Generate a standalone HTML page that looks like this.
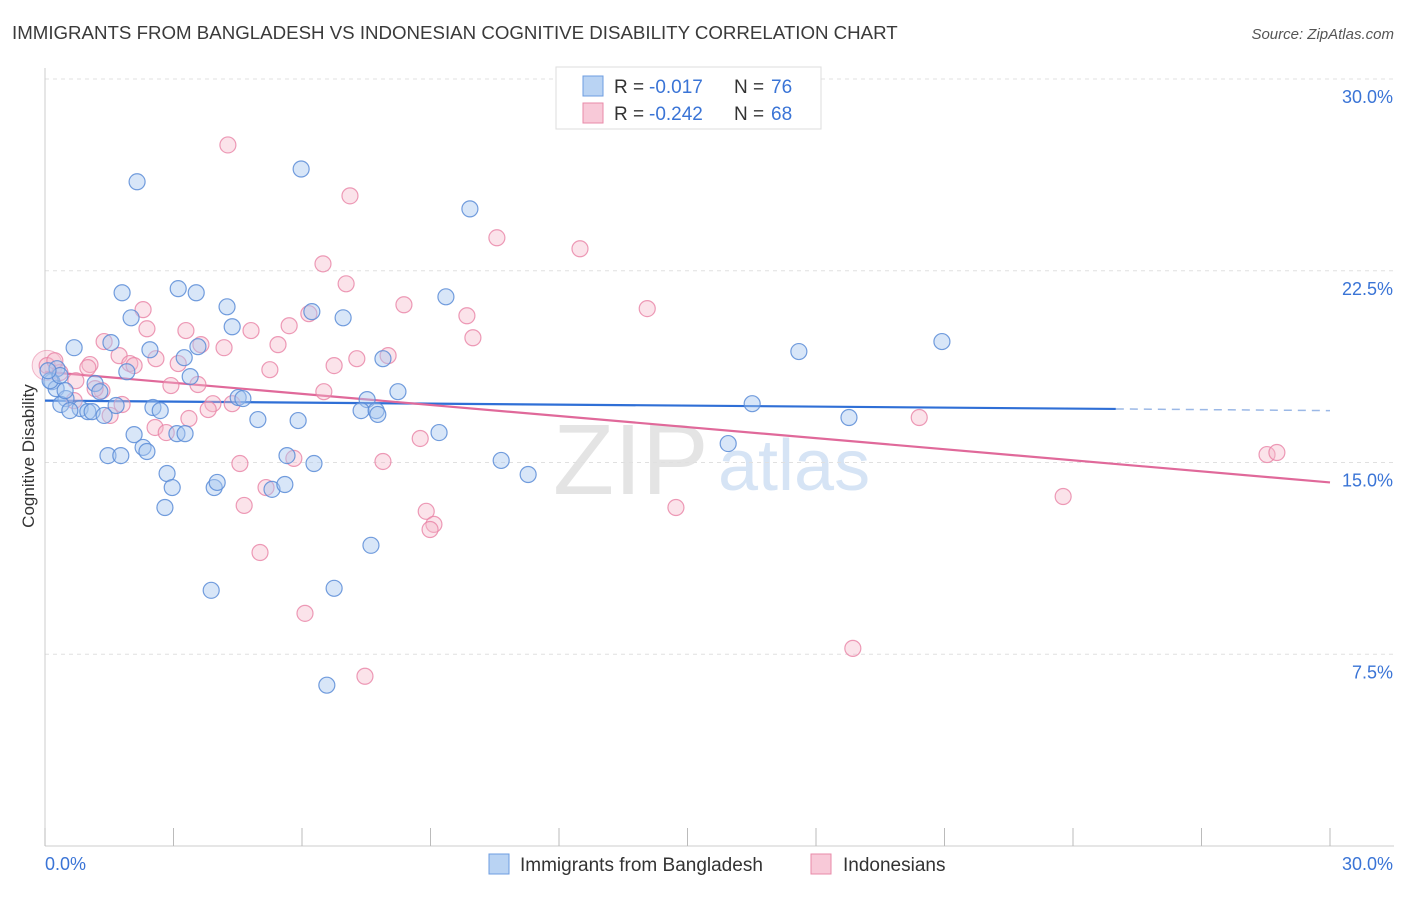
<!DOCTYPE html>
<html><head><meta charset="utf-8"><style>
body{margin:0;background:#fff;font-family:"Liberation Sans",sans-serif;}
svg text{font-family:"Liberation Sans",sans-serif;}
</style></head><body>
<svg id="chart" width="1406" height="892" viewBox="0 0 1406 892" xmlns="http://www.w3.org/2000/svg">
<text x="12" y="39" font-size="18.7" fill="#3a3a3a">IMMIGRANTS FROM BANGLADESH VS INDONESIAN COGNITIVE DISABILITY CORRELATION CHART</text>
<text x="1394" y="39" font-size="15" fill="#555" text-anchor="end" font-style="italic">Source: ZipAtlas.com</text>
<text transform="translate(34,456) rotate(-90)" font-size="17" fill="#333" text-anchor="middle">Cognitive Disability</text>
<g><text x="553" y="494" font-size="100" fill="#e4e4e4" font-family="Liberation Serif,serif">ZIP</text><text x="718" y="490" font-size="72" fill="#d6e4f5">atlas</text></g>
<g id="grid"></g><g id="axes"></g><g id="trends"></g><g id="points"></g>
<g>
<rect x="556" y="67" width="265" height="62" fill="#fff" stroke="#ddd"/>
<rect x="583" y="76" width="20" height="20" fill="#b9d3f3" stroke="#6d9de0"/>
<text x="614" y="93" font-size="19" fill="#333">R =</text>
<text x="649" y="93" font-size="19" fill="#3a74d6">-0.017</text>
<text x="734" y="93" font-size="19" fill="#333">N =</text>
<text x="771" y="93" font-size="19" fill="#3a74d6">76</text>
<rect x="583" y="103" width="20" height="20" fill="#f8c9d8" stroke="#e88aa8"/>
<text x="614" y="120" font-size="19" fill="#333">R =</text>
<text x="649" y="120" font-size="19" fill="#3a74d6">-0.242</text>
<text x="734" y="120" font-size="19" fill="#333">N =</text>
<text x="771" y="120" font-size="19" fill="#3a74d6">68</text>
</g>
<g>
<rect x="489" y="854" width="20" height="20" fill="#b9d3f3" stroke="#6d9de0"/>
<text x="520" y="871" font-size="19" fill="#333">Immigrants from Bangladesh</text>
<rect x="811" y="854" width="20" height="20" fill="#f8c9d8" stroke="#e88aa8"/>
<text x="843" y="871" font-size="19" fill="#333">Indonesians</text>
</g>
</svg>
<script>
const blueX=[2.15,5.98,9.92,1.80,3.11,3.53,4.25,9.36,6.23,6.96,2.01,4.37,1.54,0.68,2.45,3.57,3.25,20.94,17.60,7.89,1.91,3.39,0.28,0.16,1.17,1.28,0.26,0.49,4.51,4.62,8.24,7.52,0.37,0.82,1.66,2.52,2.69,0.58,1.00,1.10,1.38,4.97,5.91,7.38,7.73,7.77,16.51,18.77,2.08,3.08,3.27,2.29,2.38,9.20,15.95,1.47,1.77,5.65,6.28,10.65,11.28,2.85,2.97,3.95,4.02,5.30,5.60,2.80,7.61,3.88,6.75,6.58,0.12,0.35,0.07,0.47];
const blueY=[25.98,26.48,24.92,21.64,21.80,21.64,21.09,21.48,20.90,20.66,20.66,20.31,19.69,19.49,19.41,19.53,19.10,19.73,19.34,19.06,18.55,18.36,18.67,18.16,18.09,17.77,17.89,17.50,17.54,17.50,17.77,17.46,17.27,17.11,17.23,17.15,17.03,17.03,16.99,16.99,16.84,16.68,16.64,17.03,17.03,16.88,17.30,16.76,16.09,16.13,16.13,15.59,15.43,16.17,15.74,15.27,15.27,15.27,14.96,15.08,14.53,14.57,14.02,14.02,14.22,13.95,14.14,13.24,11.76,10.00,10.08,6.29,18.20,18.40,18.59,17.81];
const pinkX=[4.27,7.12,10.55,12.49,6.49,7.03,8.38,2.29,6.16,9.85,14.06,3.29,2.38,5.70,9.99,4.81,1.38,3.64,4.18,5.44,7.28,1.73,2.59,1.98,2.08,1.05,1.00,3.11,5.25,6.75,8.01,0.05,2.94,3.57,6.51,0.72,1.33,0.68,1.80,3.92,3.81,4.37,1.52,3.36,2.57,2.83,8.76,20.41,28.53,28.76,4.55,7.89,5.81,5.16,4.65,8.90,9.08,8.99,14.73,23.77,5.02,6.07,18.86,7.47,0.35,0.23,1.17];
const pinkY=[27.42,25.43,23.79,23.36,22.77,21.99,21.17,20.98,20.82,20.74,21.02,20.16,20.23,20.35,19.88,20.16,19.73,19.61,19.49,19.61,19.06,19.18,19.06,18.87,18.79,18.83,18.71,18.87,18.63,18.79,19.18,18.79,18.01,18.05,17.77,18.20,17.81,17.42,17.27,17.30,17.07,17.30,16.84,16.72,16.37,16.17,15.94,16.76,15.31,15.39,14.96,15.04,15.16,14.02,13.32,13.09,12.58,12.38,13.24,13.67,11.48,9.10,7.73,6.64,18.52,18.98,17.89];
const blueTrend=[17.42,17.03];
const pinkTrend=[18.55,14.22];
const yTicks=[7.5,15,22.5,30];
const yTickLabels=["7.5%","15.0%","22.5%","30.0%"];
const xTickCount=10;
const NS="http://www.w3.org/2000/svg";
const X0=45,X1=1330,Y0=846,Y1=79,MAXX=30,MAXY=30;
function sx(v){return X0+(v/MAXX)*(X1-X0);}
function sy(v){return Y0-(v/MAXY)*(Y0-Y1);}
function mk(tag,attrs,parent){const e=document.createElementNS(NS,tag);for(const k in attrs)e.setAttribute(k,attrs[k]);parent.appendChild(e);return e;}
const grid=document.getElementById('grid'),axes=document.getElementById('axes'),trends=document.getElementById('trends'),pts=document.getElementById('points');
yTicks.forEach((t,i)=>{
 const l=mk('line',{x1:X0,x2:1394,y1:sy(t),y2:sy(t),stroke:'#e0e0e0','stroke-dasharray':'4,4'},grid);
 
 
 const tx=mk('text',{x:1393,y:sy(t)+24,'font-size':18,fill:'#3a74d6','text-anchor':'end'},axes);
 tx.textContent=yTickLabels[i];
 
 
});
const ya=mk('line',{x1:X0,x2:X0,y1:68,y2:Y0,stroke:'#ccc'},axes);


const xa=mk('line',{x1:X0,x2:1394,y1:Y0,y2:Y0,stroke:'#ccc'},axes);


for(let i=0;i<=xTickCount;i++){
 const v=MAXX*i/xTickCount;
 const t=mk('line',{x1:sx(v),x2:sx(v),y1:828,y2:Y0,stroke:'#bbb'},axes);
 
 
}
const xl0=mk('text',{x:45,y:870,'font-size':18,fill:'#3a74d6'},axes);xl0.textContent='0.0%';


const xl1=mk('text',{x:1393,y:870,'font-size':18,fill:'#3a74d6','text-anchor':'end'},axes);xl1.textContent='30.0%';


const bEnd=25;
const bY=x=>blueTrend[0]+(blueTrend[1]-blueTrend[0])*x/MAXX;
const bt=mk('line',{x1:sx(0),y1:sy(bY(0)),x2:sx(bEnd),y2:sy(bY(bEnd)),stroke:'#2f6fd6','stroke-width':2.2},trends);


const bd=mk('line',{x1:sx(bEnd),y1:sy(bY(bEnd)),x2:sx(MAXX),y2:sy(bY(MAXX)),stroke:'#9bb8e6','stroke-width':1.5,'stroke-dasharray':'8,6'},trends);


const pt=mk('line',{x1:sx(0),y1:sy(pinkTrend[0]),x2:sx(MAXX),y2:sy(pinkTrend[1]),stroke:'#e0699a','stroke-width':2.2},trends);


const big=mk('circle',{cx:sx(0.05),cy:sy(18.8),r:15,fill:'rgba(245,184,203,0.35)',stroke:'rgba(232,138,168,0.6)'},pts);


pinkX.forEach((x,i)=>{
 const c=mk('circle',{cx:sx(x),cy:sy(pinkY[i]),r:8,fill:'rgba(245,184,203,0.4)',stroke:'rgba(232,130,165,0.8)','stroke-width':1.2},pts);
 
 
});
blueX.forEach((x,i)=>{
 const c=mk('circle',{cx:sx(x),cy:sy(blueY[i]),r:8,fill:'rgba(169,200,240,0.45)',stroke:'rgba(90,140,215,0.85)','stroke-width':1.2},pts);
 
 
});
</script>
</body></html>
